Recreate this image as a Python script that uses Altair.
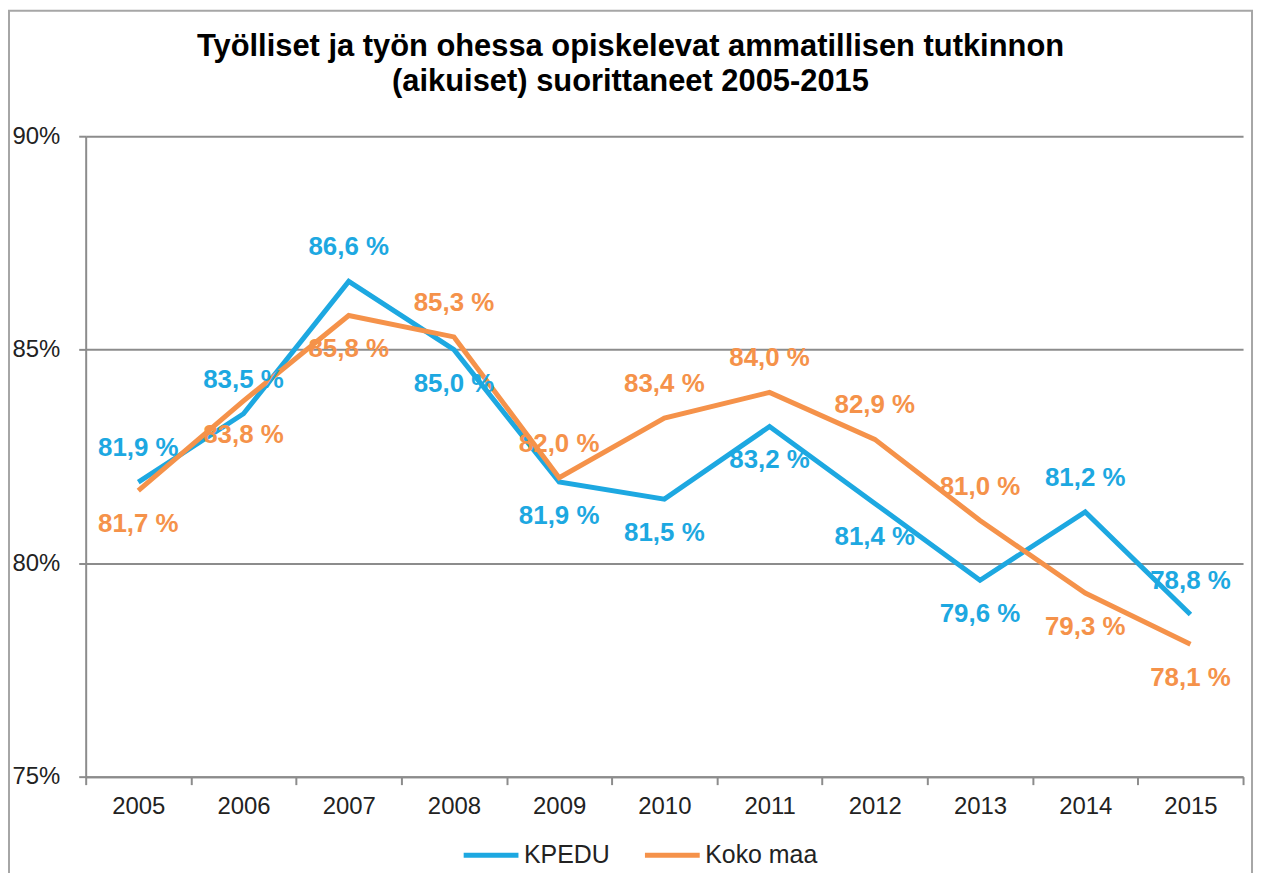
import altair as alt
import pandas as pd

# ---- data ----
years = [str(y) for y in range(2005, 2016)]
series_names = ["KPEDU", "Koko maa"]
kpedu_values = [81.9, 83.5, 86.6, 85.0, 81.9, 81.5, 83.2, 81.4, 79.6, 81.2, 78.8]
koko_values = [81.7, 83.8, 85.8, 85.3, 82.0, 83.4, 84.0, 82.9, 81.0, 79.3, 78.1]
# label placement relative to its point (as in the reference)
kpedu_place = ["above", "above", "above", "below", "below", "below",
               "below", "below", "below", "above", "above"]
koko_place = ["below", "below", "below", "above", "above", "above",
              "above", "above", "above", "below", "below"]
y_ticks = [75, 80, 85, 90]

rows = []
for name, vals, places in [("KPEDU", kpedu_values, kpedu_place),
                           ("Koko maa", koko_values, koko_place)]:
    for yr, v, p in zip(years, vals, places):
        rows.append({"year": yr, "value": v, "series": name, "place": p})
df = pd.DataFrame(rows)

BLUE = "#1DA8E1"
ORANGE = "#F5924A"
GRAY = "#8c8c8c"
FONT = "Liberation Sans"

color = alt.Color(
    "series:N",
    scale=alt.Scale(domain=series_names, range=[BLUE, ORANGE]),
    legend=alt.Legend(
        title=None, orient="none", legendX=377, legendY=692,
        direction="horizontal", symbolType="stroke", symbolSize=3025,
        symbolStrokeWidth=5, labelFont=FONT, labelFontSize=25,
        labelColor="#222222", labelOffset=3, columnPadding=24,
    ),
)

x = alt.X(
    "year:O",
    sort=years,
    scale=alt.Scale(type="band", paddingInner=0, paddingOuter=0),
    axis=alt.Axis(
        title=None, labelAngle=0, tickBand="extent", grid=False,
        domainColor=GRAY, domainWidth=2, tickColor=GRAY, tickWidth=2,
        tickSize=8, labelPadding=10, labelFont=FONT, labelFontSize=24,
        labelColor="#222222",
    ),
)
y = alt.Y(
    "value:Q",
    scale=alt.Scale(domain=[75, 90], nice=False, zero=False),
    axis=alt.Axis(
        title=None, values=y_ticks, labelExpr="datum.value + '%'",
        grid=True, gridColor=GRAY, gridWidth=2,
        domainColor=GRAY, domainWidth=2, tickColor=GRAY, tickWidth=2,
        tickSize=7, labelAlign="left", labelBaseline="middle",
        labelPadding=67, labelFont=FONT, labelFontSize=24,
        labelColor="#222222",
    ),
)

base = alt.Chart(df)

lines = base.mark_line(strokeWidth=5, strokeJoin="miter").encode(
    x=x, y=y, color=color, detail="series:N"
)

label_expr = "replace(format(datum.value, '.1f'), '.', ',') + ' %'"
label_color = alt.Color("series:N", scale=alt.Scale(domain=series_names, range=[BLUE, ORANGE]))

labels_above = base.transform_filter("datum.place == 'above'").transform_calculate(
    label=label_expr
).mark_text(dy=-34, font=FONT, fontSize=26, fontWeight="bold").encode(
    x=x, y=y, text="label:N", color=label_color,
)
labels_below = base.transform_filter("datum.place == 'below'").transform_calculate(
    label=label_expr
).mark_text(dy=34, font=FONT, fontSize=26, fontWeight="bold").encode(
    x=x, y=y, text="label:N", color=label_color,
)

frame = alt.Chart(pd.DataFrame({"f": [0]})).mark_rect(
    filled=False, stroke="#a6a6a6", strokeWidth=2
).encode(
    x=alt.value(-77), x2=alt.value(1171), y=alt.value(-126), y2=alt.value(800)
)

chart = alt.layer(frame, lines, labels_above, labels_below).properties(
    width=1162,
    height=643,
    padding={"left": 78, "top": 127, "right": 12, "bottom": 95},
    autosize=alt.AutoSizeParams(type="none"),
    background="white",
    title=alt.Title(
        ["Työlliset ja työn ohessa opiskelevat ammatillisen tutkinnon",
         "(aikuiset) suorittaneet 2005-2015"],
        font=FONT, fontSize=31, fontWeight="bold", color="#000000",
        anchor="middle", dx=-34, offset=38, dy=127, lineHeight=36,
    ),
).configure_view(stroke=None)

chart.save("out.html", embed_options={"renderer": "svg", "actions": False})
